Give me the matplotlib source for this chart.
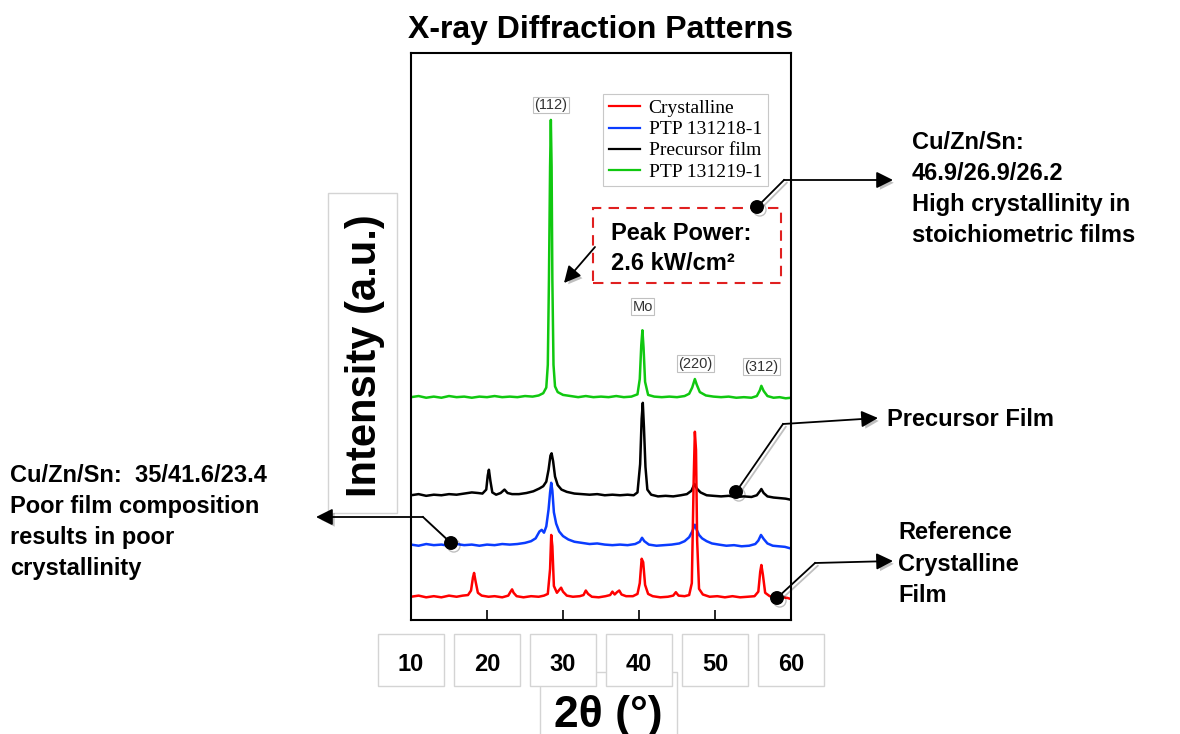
import numpy as np
import matplotlib
matplotlib.use('Agg')
import matplotlib.pyplot as plt
from matplotlib.patches import Rectangle, FancyArrowPatch
from matplotlib.lines import Line2D
import matplotlib.patheffects as pe

plt.rcParams['font.family'] = ['Liberation Sans', 'DejaVu Sans']

# 数据: (2theta, 强度) 从图上读的
crystalline = [(10, 4.1), (11, 4.3), (12, 4.0), (13, 4.2), (14, 4.0), (15, 4.3), (16, 4.1), (16.8, 4.3),
               (17.5, 4.4), (17.9, 5.2), (18.15, 7.5), (18.3, 8.3), (18.5, 6.8), (18.8, 4.8), (19.3, 4.3),
               (20.2, 4.1), (21.0, 4.2), (22.0, 4.0), (22.8, 4.3), (23.1, 5.0), (23.3, 5.4), (23.5, 4.8),
               (23.9, 4.2), (24.8, 4.0), (25.8, 4.2), (26.8, 4.1), (27.5, 4.3), (28.0, 4.6), (28.3, 9.0),
               (28.45, 15.0), (28.6, 13.0), (28.8, 6.0), (29.2, 4.8), (29.5, 5.3), (29.75, 5.7), (30.0, 5.0),
               (30.5, 4.3), (31.3, 4.1), (32.2, 4.2), (32.7, 4.4), (33.0, 5.2), (33.3, 4.6), (33.8, 4.1),
               (34.7, 4.0), (35.6, 4.2), (36.2, 4.4), (36.5, 5.0), (36.8, 4.5), (37.1, 4.9), (37.4, 5.2),
               (37.7, 4.5), (38.3, 4.2), (39.2, 4.2), (39.8, 4.6), (40.1, 6.5), (40.35, 10.8), (40.55, 10.2),
               (40.8, 6.2), (41.2, 4.6), (41.8, 4.2), (42.8, 4.0), (43.8, 4.1), (44.5, 4.3), (44.85, 4.9),
               (45.2, 4.3), (46.0, 4.2), (46.6, 4.4), (46.95, 6.5), (47.2, 25.0), (47.35, 33.2), (47.5, 30.0),
               (47.65, 14.0), (47.9, 5.5), (48.4, 4.5), (49.3, 4.1), (50.3, 4.2), (51.3, 4.0), (52.3, 4.2),
               (53.3, 4.0), (54.3, 4.1), (55.2, 4.2), (55.7, 5.0), (55.95, 8.5), (56.1, 9.7), (56.3, 8.0),
               (56.6, 4.8), (57.2, 4.2), (58.0, 4.1), (58.8, 4.0), (59.5, 3.9), (60, 3.7)]

ptp_131218 = [(10, 13.3), (11, 13.1), (12, 13.4), (13, 13.2), (14, 13.3), (15, 13.1), (16, 13.4), (17, 13.2),
              (18, 13.3), (19, 13.1), (20, 13.3), (21, 13.2), (22, 13.4), (23, 13.3), (24, 13.4), (25, 13.6),
              (25.8, 13.9), (26.4, 14.4), (26.9, 15.6), (27.2, 15.9), (27.5, 15.4), (27.8, 16.5), (28.1, 19.5),
              (28.3, 22.5), (28.45, 24.2), (28.6, 22.8), (28.8, 19.0), (29.1, 17.0), (29.5, 15.6), (30.0, 14.8),
              (30.7, 14.2), (31.5, 13.8), (32.5, 13.6), (33.5, 13.4), (34.5, 13.5), (35.5, 13.3), (36.5, 13.2),
              (37.5, 13.3), (38.5, 13.2), (39.5, 13.4), (40.1, 13.8), (40.4, 14.5), (40.7, 13.9), (41.3, 13.3),
              (42.3, 13.1), (43.3, 13.2), (44.3, 13.3), (45.3, 13.5), (46.0, 13.9), (46.6, 14.6), (47.0, 15.6),
              (47.35, 16.8), (47.6, 15.9), (47.9, 15.0), (48.3, 14.4), (48.9, 13.9), (49.6, 13.5), (50.5, 13.3),
              (51.5, 13.1), (52.5, 13.2), (53.5, 13.0), (54.5, 13.1), (55.3, 13.4), (55.7, 14.0), (56.05, 15.0),
              (56.4, 14.3), (56.9, 13.5), (57.6, 13.1), (58.4, 13.0), (59.2, 12.9), (60, 12.6)]

precursor = [(10, 22.0), (11, 22.2), (12, 21.9), (13, 22.1), (14, 22.0), (15, 22.2), (16, 22.1), (17, 22.3),
             (18, 22.5), (18.8, 22.4), (19.4, 22.3), (19.9, 23.0), (20.1, 25.5), (20.25, 26.5), (20.45, 24.5),
             (20.7, 22.5), (21.2, 22.1), (21.8, 22.4), (22.3, 23.0), (22.7, 22.4), (23.3, 22.2), (24.2, 22.2),
             (25.2, 22.4), (26.1, 22.7), (26.9, 23.2), (27.4, 23.6), (27.8, 24.4), (28.1, 26.5), (28.35, 29.0),
             (28.5, 29.4), (28.7, 28.0), (28.95, 25.3), (29.3, 23.8), (29.8, 23.0), (30.5, 22.6), (31.5, 22.3),
             (32.5, 22.2), (33.5, 22.1), (34.5, 22.2), (35.5, 22.0), (36.5, 22.1), (37.5, 22.0), (38.5, 22.1),
             (39.3, 22.0), (39.8, 22.5), (40.15, 27.5), (40.35, 35.5), (40.5, 38.3), (40.65, 34.0), (40.85, 27.0),
             (41.1, 23.0), (41.6, 22.1), (42.5, 21.8), (43.5, 21.9), (44.5, 21.8), (45.5, 22.0), (46.3, 22.2),
             (46.9, 22.8), (47.3, 24.0), (47.6, 23.2), (48.1, 22.5), (48.9, 22.0), (49.8, 21.9), (50.8, 21.8),
             (51.8, 21.9), (52.8, 21.7), (53.8, 21.8), (54.8, 21.7), (55.5, 22.0), (55.9, 22.7), (56.1, 23.1),
             (56.4, 22.4), (56.9, 21.8), (57.7, 21.6), (58.5, 21.5), (59.3, 21.4), (60, 21.2)]

ptp_131219 = [(10, 39.3), (11, 39.5), (12, 39.2), (13, 39.4), (14, 39.2), (15, 39.5), (16, 39.3), (17, 39.4),
              (18, 39.2), (19, 39.4), (20, 39.3), (21, 39.5), (22, 39.3), (23, 39.4), (24, 39.3), (25, 39.5),
              (26, 39.4), (26.8, 39.6), (27.4, 40.0), (27.8, 41.0), (28.0, 45.0), (28.15, 60.0), (28.3, 80.0),
              (28.4, 88.2), (28.5, 80.0), (28.6, 60.0), (28.75, 45.0), (28.95, 41.2), (29.3, 40.2), (30.0, 39.7),
              (31, 39.5), (32, 39.3), (33, 39.5), (34, 39.3), (35, 39.4), (36, 39.3), (37, 39.5), (38, 39.3),
              (39, 39.4), (39.8, 39.8), (40.1, 42.5), (40.3, 48.5), (40.45, 51.1), (40.6, 48.0), (40.8, 42.0),
              (41.2, 39.7), (42.0, 39.4), (43, 39.3), (44, 39.4), (45, 39.3), (46, 39.5), (46.6, 39.9),
              (47.0, 41.0), (47.35, 42.5), (47.6, 41.5), (48.0, 40.2), (48.8, 39.6), (49.8, 39.4), (50.8, 39.3),
              (51.8, 39.4), (52.8, 39.2), (53.8, 39.3), (54.8, 39.2), (55.5, 39.5), (55.9, 40.5), (56.1, 41.3),
              (56.4, 40.4), (56.9, 39.5), (57.7, 39.2), (58.5, 39.3), (59.3, 39.1), (60, 39.2)]

series_names = ['Crystalline', 'PTP 131218-1', 'Precursor film', 'PTP 131219-1']
series_colors = ['#ff0000', '#0a3cff', '#000000', '#10c810']

peak_labels = ['(112)', 'Mo', '(220)', '(312)']
peak_pos = [28.4, 40.5, 47.4, 56.1]
peak_label_y = [89.6, 54.0, 44.0, 43.4]

xticks = [10, 20, 30, 40, 50, 60]

W, H = 1180, 734


def fp(x, y):
    # 像素坐标(左上为原点) -> figure 坐标
    return x / W, 1 - y / H


fig = plt.figure(figsize=(11.8, 7.34), dpi=100)
ax = fig.add_axes([411 / W, 1 - 620 / H, 380 / W, 567 / H])

# 先画绿色, 红色在最上层
for data, name, c in zip([ptp_131219, precursor, ptp_131218, crystalline],
                         series_names[::-1], series_colors[::-1]):
    xs, ys = zip(*data)
    ax.plot(xs, ys, color=c, lw=1.8, label=name)

ax.set_xlim(10, 60)
ax.set_ylim(0, 100)
ax.set_yticks([])
ax.set_xticks(xticks)
ax.set_xticklabels([str(t) for t in xticks], fontsize=17, fontweight='bold')
ax.tick_params(axis='x', direction='in', length=7, width=1.2, pad=24)
for s in ax.spines.values():
    s.set_linewidth(1.5)

ax.set_title('X-ray Diffraction Patterns', fontsize=23, fontweight='bold', pad=11)
ax.set_xlabel('2θ (°)', fontsize=32, fontweight='bold')
ax.xaxis.set_label_coords(0.518, -0.189)
ax.xaxis.label.set_verticalalignment('baseline')
ax.set_ylabel('Intensity (a.u.)', fontsize=30, fontweight='bold')
ax.yaxis.set_label_coords(-0.121, 0.467)
ax.yaxis.label.set_verticalalignment('center')

# 图例
h, l = ax.get_legend_handles_labels()
order = [l.index(n) for n in series_names]
leg = ax.legend([h[i] for i in order], [l[i] for i in order], loc='upper left',
                bbox_to_anchor=(0.505, 0.928), borderaxespad=0, fancybox=False,
                prop={'family': 'Liberation Serif', 'size': 14}, handlelength=1.6,
                handletextpad=0.45, labelspacing=0.18, borderpad=0.3, framealpha=1)
leg.get_frame().set_edgecolor('#c8c8c8')
leg.get_frame().set_linewidth(0.8)
for line in leg.get_lines():
    line.set_linewidth(1.6)

# 峰标注
for lab, x, y in zip(peak_labels, peak_pos, peak_label_y):
    ax.text(x, y, lab, ha='center', va='bottom', fontsize=10.5, color='#333333',
            bbox=dict(boxstyle='square,pad=0.1', fc='white', ec='#c0c0c0', lw=0.8))

# 刻度标签的框和坐标轴标题的框 (放在坐标轴下面)
fig.add_artist(Rectangle(fp(540, 740), 137 / W, 68 / H, transform=fig.transFigure,
                         fc='white', ec='#d4d4d4', lw=1, zorder=-2))
fig.add_artist(Rectangle(fp(328, 513), 69 / W, 320 / H, transform=fig.transFigure,
                         fc='white', ec='#d4d4d4', lw=1, zorder=-2))
for t in xticks:
    xpix = 411 + (t - 10) * 7.6
    fig.add_artist(Rectangle(fp(xpix - 33, 686), 66 / W, 52 / H, transform=fig.transFigure,
                             fc='white', ec='#d4d4d4', lw=1, zorder=-1))

# Peak Power 框
fig.add_artist(Rectangle(fp(593, 283), 188 / W, 75 / H, transform=fig.transFigure,
                         fill=False, ec='#e02020', lw=1.5, ls=(0, (5, 3.5))))
fig.text(*fp(611, 233), 'Peak Power:', fontsize=17, fontweight='bold', va='center')
fig.text(*fp(611, 264), '2.6 kW/cm²', fontsize=17, fontweight='bold', va='center')

shadow = [pe.SimpleLineShadow(offset=(2, -2), alpha=0.25), pe.Normal()]
pshadow = [pe.SimplePatchShadow(offset=(2, -2), alpha=0.25), pe.Normal()]


def callout(pts, dot=True):
    xs = [fp(*p)[0] for p in pts]
    ys = [fp(*p)[1] for p in pts]
    fig.add_artist(Line2D(xs[:-1], ys[:-1], transform=fig.transFigure, color='black', lw=1.3,
                          path_effects=shadow))
    arr = FancyArrowPatch((xs[-2], ys[-2]), (xs[-1], ys[-1]), transform=fig.transFigure,
                          arrowstyle='-|>,head_length=10,head_width=5', color='black', lw=1.3,
                          shrinkA=0, shrinkB=0, path_effects=pshadow)
    fig.add_artist(arr)
    if dot:
        fig.add_artist(Line2D([xs[0]], [ys[0]], transform=fig.transFigure, marker='o', ms=9,
                              color='black', path_effects=shadow))


callout([(595, 247), (564, 283)], dot=False)
callout([(757, 207), (784, 180), (893, 180)])
callout([(736, 492), (783, 424), (878, 418)])
callout([(777, 598), (815, 563), (893, 561)])
callout([(451, 543), (423, 517), (316, 517)])

fs = 17
fig.text(*fp(912, 189), 'Cu/Zn/Sn:\n46.9/26.9/26.2\nHigh crystallinity in\nstoichiometric films',
         fontsize=fs, fontweight='bold', va='center', linespacing=1.45)
fig.text(*fp(887, 419), 'Precursor Film', fontsize=fs, fontweight='bold', va='center')
fig.text(*fp(898, 564), 'Reference\nCrystalline\nFilm', fontsize=fs, fontweight='bold', va='center',
         linespacing=1.45)
fig.text(*fp(10, 522), 'Cu/Zn/Sn:  35/41.6/23.4\nPoor film composition\nresults in poor\ncrystallinity',
         fontsize=fs, fontweight='bold', va='center', linespacing=1.45)

fig.savefig('out.png', dpi=100)
